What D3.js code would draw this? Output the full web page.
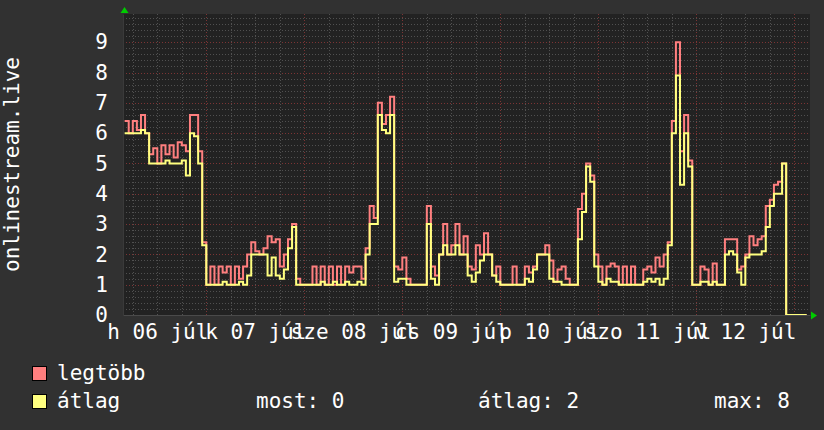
<!DOCTYPE html>
<html>
<head>
<meta charset="utf-8">
<script src="https://cdn.jsdelivr.net/npm/d3@7/dist/d3.min.js"></script>
<style>
    html, body { margin: 0; padding: 0; background: #313131; }
    svg { display: block; }
    text { font-family: 'DejaVu Sans Mono', monospace; font-size: 21px; fill: #ffffff; }
</style>
</head>
<body>
<svg id="chart" width="824" height="430"></svg>
<script>
'use strict';

// hourly samples, the first one is h 06 júl 04:00
const maxValues = [
    6.4, 6.0, 6.4, 6.1, 6.6, 6.0, 5.3, 5.5, 5.0, 5.6, 5.3, 5.6, 5.2, 5.7, 5.6, 5.4, 6.6, 6.6, 5.4, 2.4,
    1.0, 1.6, 1.0, 1.6, 1.4, 1.6, 1.0, 1.6, 1.2, 1.6, 2.0, 2.4, 2.1, 2.0, 2.2, 2.6, 2.4, 2.5, 1.6, 2.0, 2.5, 3.0, 1.2, 1.0,
    1.0, 1.0, 1.6, 1.0, 1.6, 1.0, 1.6, 1.0, 1.6, 1.0, 1.6, 1.4, 1.6, 1.6, 1.2, 2.2, 3.6, 3.2, 7.0, 6.3, 6.6, 7.2, 1.6, 1.5,
    1.9, 1.2, 1.0, 1.0, 1.0, 1.0, 3.6, 1.6, 1.3, 2.0, 3.0, 2.0, 2.3, 3.0, 2.0, 2.6, 1.6, 1.5, 2.3, 2.0, 2.7, 2.0, 1.3, 1.6,
    1.0, 1.0, 1.0, 1.6, 1.0, 1.0, 1.6, 1.4, 1.6, 2.0, 2.0, 2.3, 1.8, 1.1, 1.5, 1.6, 1.2, 1.0, 1.0, 3.5, 4.0, 5.0, 4.6, 2.0,
    1.6, 1.0, 1.6, 1.7, 1.6, 1.0, 1.6, 1.0, 1.6, 1.0, 1.0, 1.5, 1.6, 1.4, 1.9, 1.6, 2.0, 2.4, 6.4, 9.0, 5.4, 6.6, 5.1, 1.0,
    1.0, 1.6, 1.5, 1.0, 1.7, 1.0, 1.0, 2.5, 2.5, 2.5, 1.5, 1.6, 2.0, 2.6, 2.3, 2.5, 2.6, 3.6, 3.8, 4.3, 4.4, 5.0, 0, 0,
    0, 0, 0, 0
];

const avgValues = [
    6.0, 6.0, 6.0, 6.0, 6.1, 6.0, 5.0, 5.0, 5.0, 5.0, 5.1, 5.0, 5.0, 5.0, 5.1, 4.6, 6.0, 5.9, 5.0, 2.3,
    1.0, 1.0, 1.0, 1.0, 1.1, 1.0, 1.0, 1.0, 1.1, 1.0, 1.3, 2.0, 2.0, 2.0, 2.0, 1.3, 1.9, 1.3, 1.2, 1.5, 2.2, 2.9, 1.0, 1.0,
    1.0, 1.0, 1.0, 1.0, 1.1, 1.0, 1.0, 1.1, 1.0, 1.0, 1.1, 1.0, 1.0, 1.1, 1.0, 2.0, 3.0, 3.0, 6.6, 6.1, 6.0, 6.6, 1.1, 1.2,
    1.2, 1.0, 1.0, 1.0, 1.0, 1.0, 3.0, 1.2, 1.0, 2.0, 2.3, 2.0, 2.0, 2.3, 2.0, 2.0, 1.3, 1.1, 1.4, 1.8, 2.0, 2.0, 1.3, 1.1,
    1.0, 1.0, 1.0, 1.0, 1.0, 1.0, 1.2, 1.1, 1.5, 2.0, 2.0, 2.0, 1.2, 1.1, 1.1, 1.0, 1.0, 1.0, 1.0, 2.5, 3.4, 4.9, 4.4, 1.6,
    1.1, 1.0, 1.2, 1.1, 1.1, 1.0, 1.0, 1.0, 1.0, 1.0, 1.0, 1.1, 1.2, 1.1, 1.2, 1.0, 1.2, 2.3, 6.0, 7.9, 4.3, 6.0, 4.9, 1.0,
    1.0, 1.1, 1.1, 1.0, 1.1, 1.0, 1.0, 2.0, 2.1, 2.0, 1.4, 1.0, 1.9, 2.0, 2.0, 2.0, 2.1, 2.9, 3.6, 4.0, 4.0, 5.0, 0, 0,
    0, 0, 0, 0
];

const dayLabels = ['h 06 júl', 'k 07 júl', 'sze 08 júl', 'cs 09 júl', 'p 10 júl', 'szo 11 júl', 'v 12 júl'];
const yTicks = [0, 1, 2, 3, 4, 5, 6, 7, 8, 9];
const seriesNames = ['legtöbb', 'átlag'];
const statLabels = ['most: 0', 'átlag: 2', 'max: 8'];
const axisTitle = 'onlinestream.live';

const colors = {
    canvas: '#313131',
    plot: '#222222',
    minorGrid: '#505050',
    majorGrid: '#7c3434',
    arrow: '#00cc00',
    series: ['#ff7f7f', '#ffff7f']
};

const svg = d3.select('#chart');
const plot = { left: 123, right: 810, top: 14, bottom: 315 };

const x = d3.scaleTime()
    .domain([new Date(2015, 6, 6, 3, 36), new Date(2015, 6, 13, 3, 50)])
    .range([plot.left, plot.right]);

const y = d3.scaleLinear()
    .domain([0, 9.93])
    .range([plot.bottom, plot.top]);

const firstSample = new Date(2015, 6, 6, 4, 0);
const times = maxValues.map((d, i) => d3.timeHour.offset(firstSample, i));

svg.append('rect')
    .attr('width', 824)
    .attr('height', 430)
    .attr('fill', colors.canvas);

svg.append('rect')
    .attr('x', plot.left)
    .attr('y', plot.top)
    .attr('width', plot.right - plot.left)
    .attr('height', plot.bottom - plot.top)
    .attr('fill', colors.plot);

svg.append('defs')
    .append('clipPath')
    .attr('id', 'plot-clip')
    .append('rect')
    .attr('x', plot.left)
    .attr('y', plot.top)
    .attr('width', plot.right - plot.left)
    .attr('height', plot.bottom - plot.top);

// grid: minor every 0.2 and 6 hours, major every unit and midnight
const grid = svg.append('g').attr('class', 'grid');
const minorY = d3.range(1, 50).map(k => k / 5).filter(v => v % 1 !== 0 && v < y.domain()[1]);
const majorY = yTicks.filter(v => v > 0);
const minorX = d3.timeHour.every(6).range(x.domain()[0], x.domain()[1]).filter(d => d.getHours() !== 0);
const majorX = d3.timeDay.range(x.domain()[0], x.domain()[1]);

const hLines = (values, color) => grid.selectAll(null)
    .data(values)
    .enter()
    .append('line')
    .attr('x1', plot.left)
    .attr('x2', plot.right)
    .attr('y1', d => Math.round(y(d)) + 0.5)
    .attr('y2', d => Math.round(y(d)) + 0.5)
    .attr('stroke', color)
    .attr('stroke-dasharray', '1,2');

const vLines = (values, color) => grid.selectAll(null)
    .data(values)
    .enter()
    .append('line')
    .attr('x1', d => Math.round(x(d)) + 0.5)
    .attr('x2', d => Math.round(x(d)) + 0.5)
    .attr('y1', plot.top)
    .attr('y2', plot.bottom)
    .attr('stroke', color)
    .attr('stroke-dasharray', '1,2');

hLines(minorY, colors.minorGrid);
vLines(minorX, colors.minorGrid);
hLines(majorY, colors.majorGrid);
vLines(majorX, colors.majorGrid);

// the two series, average drawn on top
const line = d3.line()
    .x((d, i) => x(times[i]))
    .y(d => y(d))
    .curve(d3.curveStepAfter);

const lines = svg.append('g').attr('clip-path', 'url(#plot-clip)');
[maxValues, avgValues].forEach((values, k) => {
    lines.append('path')
        .attr('d', line(values))
        .attr('fill', 'none')
        .attr('stroke', colors.series[k])
        .attr('stroke-width', 2)
        .attr('stroke-linejoin', 'miter');
});

// axes
const noons = majorX.map(d => d3.timeHour.offset(d, 12));
noons.unshift(d3.timeHour.offset(d3.timeDay.floor(x.domain()[0]), 12));

const xAxis = svg.append('g')
    .attr('transform', `translate(0,${plot.bottom})`)
    .call(d3.axisBottom(x)
        .tickValues(noons)
        .tickFormat((d, i) => dayLabels[i])
        .tickSize(0)
        .tickPadding(9));
xAxis.select('.domain').attr('stroke', '#4a4a4a');

const yAxis = svg.append('g')
    .attr('transform', `translate(${plot.left},0)`)
    .call(d3.axisLeft(y)
        .tickValues(yTicks)
        .tickFormat(d3.format('d'))
        .tickSize(0)
        .tickPadding(15));
yAxis.select('.domain').attr('stroke', '#3a3a3a');

svg.append('text')
    .attr('transform', `translate(19,${(plot.top + plot.bottom) / 2}) rotate(-90)`)
    .attr('text-anchor', 'middle')
    .text(axisTitle);

// arrow heads at the axis ends
svg.append('path')
    .attr('d', `M${plot.left - 2.5},${plot.top - 1}L${plot.left + 1.5},${plot.top - 7}L${plot.left + 5.5},${plot.top - 1}Z`)
    .attr('fill', colors.arrow);
svg.append('path')
    .attr('d', `M${plot.right + 1},${plot.bottom - 3.5}L${plot.right + 7},${plot.bottom + 0.5}L${plot.right + 1},${plot.bottom + 4.5}Z`)
    .attr('fill', colors.arrow);

// legend
const legend = svg.append('g');
seriesNames.forEach((name, k) => {
    legend.append('rect')
        .attr('x', 32.5)
        .attr('y', 366.5 + k * 28)
        .attr('width', 14)
        .attr('height', 14)
        .attr('fill', colors.series[k])
        .attr('stroke', '#000');
    legend.append('text')
        .attr('x', 57)
        .attr('y', 380 + k * 28)
        .text(name);
});

const statX = [256, 478, 714];
legend.selectAll('.stat')
    .data(statLabels)
    .enter()
    .append('text')
    .attr('class', 'stat')
    .attr('x', (d, i) => statX[i])
    .attr('y', 408)
    .text(d => d);
</script>
</body>
</html>
